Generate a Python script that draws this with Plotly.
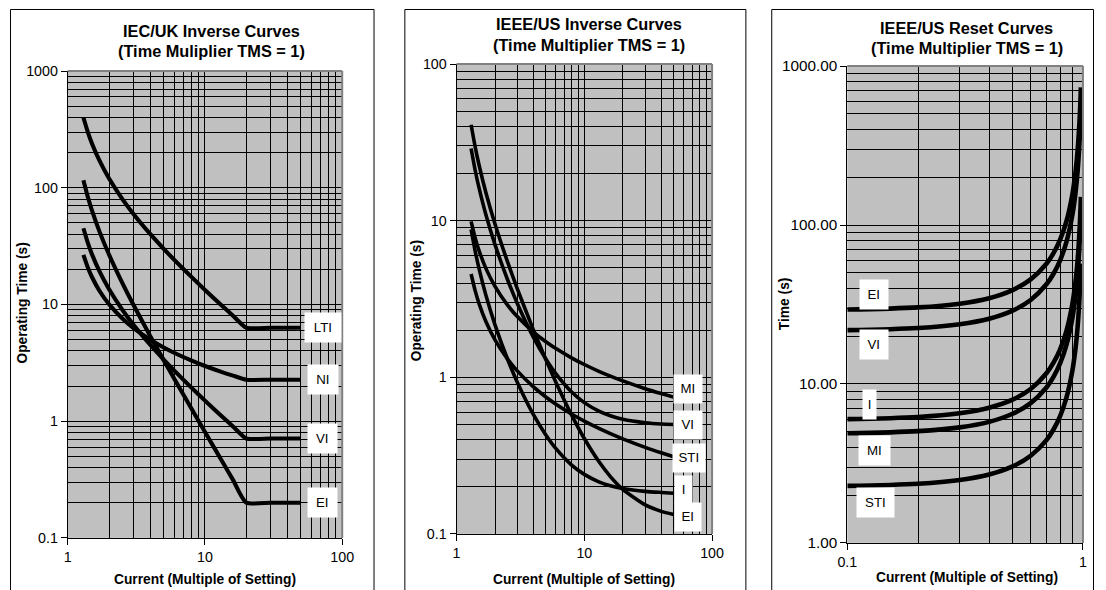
import numpy as np
import plotly.graph_objects as go

# ---------------- data ----------------
# Panel 1: IEC/UK inverse curves (TMS = 1)
iec_current = [1.3, 1.4, 1.5, 1.7, 2, 2.5, 3, 4, 5, 6, 8, 10, 13, 16, 20, 30, 40, 50]
iec_lti = [400, 300, 240, 171.4, 120, 80, 60, 40, 30, 24, 17.14, 13.33, 10, 8, 6.32, 6.32, 6.32, 6.32]
iec_ni = [26.61, 20.73, 17.19, 13.12, 10.03, 7.57, 6.30, 4.98, 4.28, 3.84, 3.30, 2.97, 2.66, 2.455, 2.267, 2.267, 2.267, 2.267]
iec_vi = [45, 33.75, 27, 19.29, 13.5, 9, 6.75, 4.5, 3.375, 2.7, 1.929, 1.5, 1.125, 0.9, 0.711, 0.711, 0.711, 0.711]
iec_ei = [115.9, 83.3, 64, 42.3, 26.67, 15.24, 10, 5.33, 3.33, 2.286, 1.27, 0.808, 0.476, 0.314, 0.2005, 0.2, 0.2, 0.2]
iec_labels = ["LTI", "NI", "VI", "EI"]
iec_label_y = [6.32, 2.28, 0.711, 0.2]

# Panel 2: IEEE/US inverse curves (TMS = 1)
ieee_current = [1.3, 1.4, 1.5, 1.7, 2, 2.5, 3, 4, 5, 6, 8, 10, 13, 16, 20, 30, 40, 50]
ieee_mi = [9.903, 7.741, 6.439, 4.941, 3.803, 2.899, 2.432, 1.946, 1.688, 1.526, 1.327, 1.207, 1.092, 1.017, 0.948, 0.846, 0.787, 0.747]
ieee_vi = [28.91, 20.92, 16.18, 10.867, 7.028, 4.226, 2.942, 1.798, 1.308, 1.051, 0.802, 0.689, 0.608, 0.568, 0.540, 0.513, 0.503, 0.499]
ieee_sti = [4.567, 3.563, 2.957, 2.261, 1.732, 1.311, 1.0945, 0.8685, 0.7488, 0.6731, 0.5807, 0.5249, 0.4717, 0.4368, 0.4047, 0.357, 0.3296, 0.3111]
ieee_i = [8.803, 6.378, 4.94, 3.328, 2.163, 1.313, 0.924, 0.577, 0.428, 0.35, 0.274, 0.24, 0.215, 0.203, 0.195, 0.187, 0.184, 0.182]
ieee_ei = [40.99, 29.5, 22.68, 15.04, 9.522, 5.493, 3.647, 2.002, 1.297, 0.927, 0.569, 0.4065, 0.2896, 0.2323, 0.1924, 0.1531, 0.1393, 0.133]
ieee_labels = ["MI", "VI", "STI", "I", "EI"]
ieee_label_x = [64.5, 64.5, 66, 60, 65]
ieee_label_y = [0.845, 0.498, 0.307, 0.19, 0.128]

# Panel 3: IEEE/US reset curves (TMS = 1)
reset_current = [0.1, 0.2, 0.3, 0.4, 0.5, 0.6, 0.7, 0.75, 0.8, 0.85, 0.9, 0.93, 0.95, 0.97, 0.98]
reset_ei = [29.39, 30.31, 31.98, 34.64, 38.8, 45.47, 57.06, 66.51, 80.83, 104.86, 153.16, 215.4, 298.5, 492.4, 734.8]
reset_vi = [21.82, 22.5, 23.74, 25.71, 28.8, 33.75, 42.35, 49.37, 60.0, 77.84, 113.68, 159.9, 221.5, 365.5, 545.5]
reset_i = [6.01, 6.198, 6.538, 7.083, 7.933, 9.297, 11.67, 13.6, 16.53, 21.44, 31.32, 44.04, 61.03, 100.7, 150.3]
reset_mi = [4.899, 5.052, 5.33, 5.774, 6.467, 7.578, 9.51, 11.086, 13.47, 17.48, 25.53, 35.9, 49.74, 82.06, 122.5]
reset_sti = [2.284, 2.355, 2.485, 2.692, 3.015, 3.533, 4.433, 5.168, 6.281, 8.148, 11.9, 16.74, 23.19, 38.26, 57.1]
reset_labels = ["EI", "VI", "I", "MI", "STI"]
reset_label_x = [0.130, 0.130, 0.1245, 0.131, 0.132]
reset_label_y = [36.8, 17.6, 7.38, 3.79, 1.79]

# ---------------- figure ----------------
W, H = 1106, 590
# the photographed page shows the figure slightly reduced and offset; compensate
SX, SY = 1106 / 1122, 590 / 606
PAD = 8
FS = 1.02  # size compensation
FONT = "Liberation Sans, Arial, sans-serif"


def fpx(t):
    return t / SX - PAD


def fpy(t):
    return t / SY - PAD


def fx(t):
    return fpx(t) / W


def fy(t):
    return 1 - fpy(t) / H


fig = go.Figure()

for ys in [iec_lti, iec_ni, iec_vi, iec_ei]:
    fig.add_trace(go.Scatter(x=iec_current, y=ys, mode="lines",
                             line=dict(color="black", width=4.1, shape="spline", smoothing=0.6),
                             xaxis="x", yaxis="y", showlegend=False, hoverinfo="skip"))
for ys in [ieee_mi, ieee_vi, ieee_sti, ieee_i, ieee_ei]:
    fig.add_trace(go.Scatter(x=ieee_current, y=ys, mode="lines",
                             line=dict(color="black", width=3.6, shape="spline", smoothing=0.6),
                             xaxis="x2", yaxis="y2", showlegend=False, hoverinfo="skip"))
for ys in [reset_ei, reset_vi, reset_i, reset_mi, reset_sti]:
    fig.add_trace(go.Scatter(x=reset_current, y=ys, mode="lines",
                             line=dict(color="black", width=4.6, shape="spline"),
                             xaxis="x3", yaxis="y3", showlegend=False, hoverinfo="skip"))


def decade_minors(lo, hi):
    return [m * 10 ** k for k in range(lo, hi) for m in range(2, 10)]


def log_axis(domain, lo, hi, ticktext, anchor, size=14 * FS):
    return dict(
        type="log", domain=domain, range=[lo, hi], anchor=anchor,
        tickmode="array", tickvals=[10 ** k for k in range(lo, hi + 1)], ticktext=ticktext,
        ticks="outside", ticklen=6, tickcolor="black", tickwidth=1,
        showgrid=True, gridcolor="black", gridwidth=1,
        minor=dict(tickmode="array", tickvals=decade_minors(lo, hi), showgrid=True,
                   gridcolor="black", gridwidth=1, ticks=""),
        showline=True, linecolor="black", linewidth=1, mirror=False,
        zeroline=False, tickfont=dict(family=FONT, size=size, color="black"),
        fixedrange=True,
    )


# pixel geometry of plot areas (as seen in the reference picture)
p1 = dict(x=(66, 342), y=(70, 538))
p2 = dict(x=(457, 714), y=(63, 534))
p3 = dict(x=(850, 1087), y=(65, 543))


def dom_x(p):
    return [fx(p["x"][0]), fx(p["x"][1])]


def dom_y(p):
    return [fy(p["y"][1]), fy(p["y"][0])]


fig.update_layout(
    width=W, height=H, margin=dict(l=0, r=0, t=0, b=0),
    paper_bgcolor="white", plot_bgcolor="#C0C0C0",
    xaxis=log_axis(dom_x(p1), 0, 2, ["1", "10", "100"], "y"),
    yaxis=log_axis(dom_y(p1), -1, 3, ["0.1", "1", "10", "100", "1000"], "x"),
    xaxis2=log_axis(dom_x(p2), 0, 2, ["1", "10", "100"], "y2"),
    yaxis2=log_axis(dom_y(p2), -1, 2, ["0.1", "1", "10", "100"], "x2"),
    xaxis3=log_axis(dom_x(p3), -1, 0, ["0.1", "1"], "y3"),
    yaxis3=log_axis(dom_y(p3), 0, 3, ["1.00", "10.00", "100.00", "1000.00"], "x3", 15 * FS),
    font=dict(family=FONT, color="black"),
)

shapes = []
# grey plot-area border on top and right edges
for (xr, yr) in [("x", "y"), ("x2", "y2"), ("x3", "y3")]:
    shapes.append(dict(type="line", xref=xr + " domain", yref=yr + " domain", x0=0, x1=1, y0=1, y1=1,
                       line=dict(color="#808080", width=2), layer="above"))
    shapes.append(dict(type="line", xref=xr + " domain", yref=yr + " domain", x0=1, x1=1, y0=0, y1=1,
                       line=dict(color="#808080", width=2), layer="above"))
# chart-area frames
for x0, x1, y0 in [(8, 374, 7), (405, 748, 4), (774, 1104, 5)]:
    fx0 = max(fpx(x0), 0.5) / W
    fx1 = min(fpx(x1), W - 0.5) / W
    fy1 = 1 - max(fpy(y0), 0.5) / H
    shapes.append(dict(type="rect", xref="paper", yref="paper", x0=fx0, x1=fx1, y0=-0.05, y1=fy1,
                       line=dict(color="black", width=1), fillcolor="rgba(0,0,0,0)", layer="above"))
fig.update_layout(shapes=shapes)

ann = []
# titles
for cx, y1, y2, t1, t2 in [
    (211, 30, 50, "IEC/UK Inverse Curves", "(Time Muliplier TMS = 1)"),
    (590, 23, 44, "IEEE/US Inverse Curves", "(Time Multiplier TMS = 1)"),
    (970, 27, 47, "IEEE/US Reset Curves", "(Time Multiplier TMS = 1)"),
]:
    for yy, tt in [(y1, t1), (y2, t2)]:
        ann.append(dict(text="<b>%s</b>" % tt, x=fx(cx), y=fy(yy), xref="paper", yref="paper",
                        showarrow=False, xanchor="center", yanchor="middle",
                        font=dict(family=FONT, size=16 * FS, color="black")))
# x-axis titles
for cx, yy in [(204, 580), (585, 580), (970, 578)]:
    ann.append(dict(text="<b>Current (Multiple of Setting)</b>", x=fx(cx), y=fy(yy), xref="paper", yref="paper",
                    showarrow=False, xanchor="center", yanchor="middle",
                    font=dict(family=FONT, size=13.5 * FS, color="black")))
# y-axis titles
for cx, cy, tt in [(20, 303, "Operating Time (s)"), (417, 300, "Operating Time (s)"), (787, 303, "Time (s)")]:
    ann.append(dict(text="<b>%s</b>" % tt, x=fx(cx), y=fy(cy), xref="paper", yref="paper",
                    showarrow=False, xanchor="center", yanchor="middle", textangle=-90,
                    font=dict(family=FONT, size=13.5 * FS, color="black")))

# curve labels
lab_font = dict(family=FONT, size=13 * FS, color="black")
for t, yv, w in zip(iec_labels, iec_label_y, [35, 29, 28, 28]):
    ann.append(dict(text=t, x=np.log10(72), y=np.log10(yv), xref="x", yref="y", showarrow=False,
                    bgcolor="white", borderpad=0, width=w * FS, height=28 * FS, font=lab_font))
for t, xv, yv, w in zip(ieee_labels, ieee_label_x, ieee_label_y, [27, 27, 31, 17, 25]):
    ann.append(dict(text=t, x=np.log10(xv), y=np.log10(yv), xref="x2", yref="y2", showarrow=False,
                    bgcolor="white", borderpad=0, width=w * FS, height=27 * FS, font=lab_font))
for t, xv, yv, w in zip(reset_labels, reset_label_x, reset_label_y, [27, 27, 13, 30, 36]):
    ann.append(dict(text=t, x=np.log10(xv), y=np.log10(yv), xref="x3", yref="y3", showarrow=False,
                    bgcolor="white", borderpad=0, width=w * FS, height=28 * FS, font=lab_font))

fig.update_layout(annotations=ann)
fig.write_html("out.html", config={"displayModeBar": False},
               post_script="document.body.style.margin='0';document.body.style.overflow='hidden';")
